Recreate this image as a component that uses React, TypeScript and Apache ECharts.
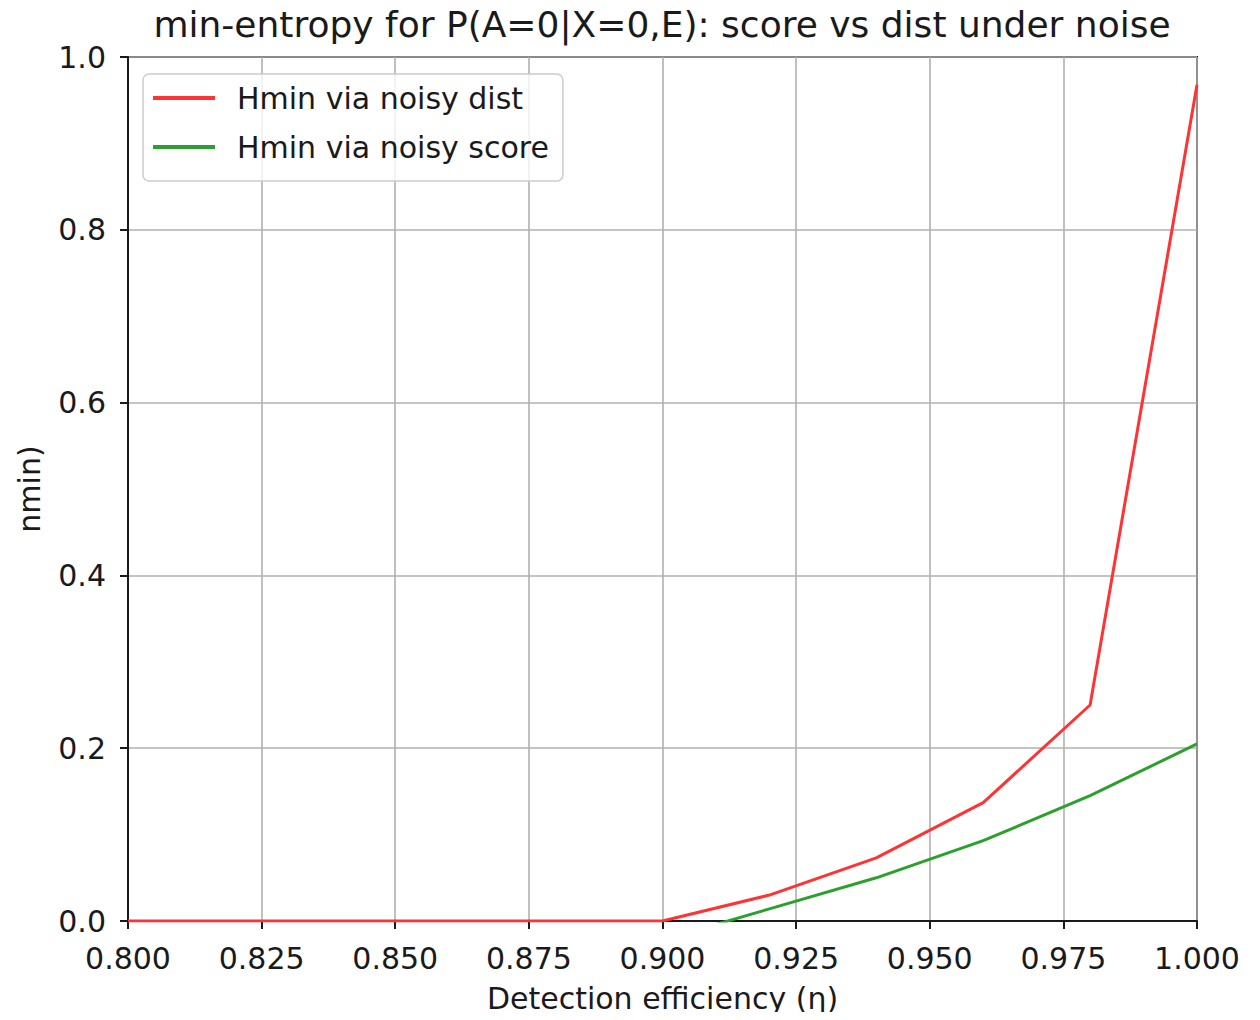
import React, { useEffect, useRef } from "react";
import * as echarts from "echarts";

// Detection efficiency samples (η)
const eta = [0.8, 0.82, 0.84, 0.86, 0.88, 0.9, 0.92, 0.94, 0.96, 0.98, 1.0];
// Hmin computed from the noisy distribution
const hminDist = [0, 0, 0, 0, 0, 0, 0.03, 0.073, 0.137, 0.25, 0.968];
// Hmin computed from the noisy score (values below zero fall outside the axis)
const hminScore = [null, null, null, null, null, -0.022, 0.014, 0.05, 0.093, 0.145, 0.205];

const xTicks = { min: 0.8, max: 1.0, interval: 0.025 };
const yTicks = { min: 0, max: 1.0, interval: 0.2 };

const titleText = "min-entropy for P(A=0|X=0,E): score vs dist under noise";
const xName = "Detection efficiency (η)";
const yName = "nmin)";
const seriesNames = ["Hmin via noisy dist", "Hmin via noisy score"];

const FONT = "DejaVu Sans";
const INK = "#1a1a1a";

export default function App() {
  const ref = useRef<HTMLDivElement>(null);

  useEffect(() => {
    if (!ref.current) return;
    const chart = echarts.init(ref.current, undefined, { renderer: "svg" });
    const toPairs = (ys: (number | null)[]) => eta.map((x, i) => [x, ys[i]]);
    chart.setOption({
      animation: false,
      backgroundColor: "#ffffff",
      textStyle: { fontFamily: FONT },
      title: {
        text: titleText,
        left: 657,
        top: 1,
        textAlign: "center",
        textStyle: { fontFamily: FONT, fontSize: 36, fontWeight: "normal", color: INK },
      },
      grid: {
        left: 128,
        top: 57,
        width: 1069,
        height: 864,
        show: true,
        borderColor: INK,
        borderWidth: 2,
        backgroundColor: "transparent",
      },
      legend: {
        orient: "vertical",
        left: 143,
        top: 74,
        padding: [9, 14, 19, 10],
        itemWidth: 62,
        itemHeight: 4,
        itemGap: 19,
        icon: "rect",
        borderColor: "#cccccc",
        borderWidth: 1.5,
        borderRadius: 6,
        backgroundColor: "rgba(255,255,255,0.8)",
        textStyle: {
          fontFamily: FONT,
          fontSize: 30,
          color: INK,
          padding: [0, 0, 0, 17],
        },
        data: seriesNames,
      },
      xAxis: {
        type: "value",
        min: xTicks.min,
        max: xTicks.max,
        interval: xTicks.interval,
        name: xName,
        nameLocation: "middle",
        nameGap: 62,
        nameTextStyle: { fontFamily: FONT, fontSize: 30, color: INK },
        axisLine: { show: true, lineStyle: { color: INK, width: 2 } },
        axisTick: { show: true, length: 8, lineStyle: { color: INK, width: 2 } },
        axisLabel: {
          fontFamily: FONT,
          fontSize: 30,
          color: INK,
          margin: 22,
          formatter: (v: number) => v.toFixed(3),
        },
        splitLine: { show: true, lineStyle: { color: "#b0b0b0", width: 1.6 } },
      },
      yAxis: {
        type: "value",
        min: yTicks.min,
        max: yTicks.max,
        interval: yTicks.interval,
        name: yName,
        nameLocation: "middle",
        nameGap: 84,
        nameTextStyle: { fontFamily: FONT, fontSize: 30, color: INK, padding: [0, 0, 0, 0] },
        axisLine: { show: true, lineStyle: { color: INK, width: 2 } },
        axisTick: { show: true, length: 8, lineStyle: { color: INK, width: 2 } },
        axisLabel: {
          fontFamily: FONT,
          fontSize: 30,
          color: INK,
          margin: 22,
          formatter: (v: number) => v.toFixed(1),
        },
        splitLine: { show: true, lineStyle: { color: "#b0b0b0", width: 1.6 } },
      },
      series: [
        {
          name: seriesNames[0],
          type: "line",
          data: toPairs(hminDist),
          showSymbol: false,
          symbol: "none",
          clip: true,
          lineStyle: { color: "#ff3333", width: 3 },
          itemStyle: { color: "#ff3333" },
          z: 3,
        },
        {
          name: seriesNames[1],
          type: "line",
          data: toPairs(hminScore),
          showSymbol: false,
          symbol: "none",
          clip: true,
          connectNulls: false,
          lineStyle: { color: "#2ca02c", width: 3 },
          itemStyle: { color: "#2ca02c" },
          z: 3,
        },
      ],
    });
    return () => chart.dispose();
  }, []);

  return <div ref={ref} style={{ width: 1260, height: 1020, margin: -8 }} />;
}
